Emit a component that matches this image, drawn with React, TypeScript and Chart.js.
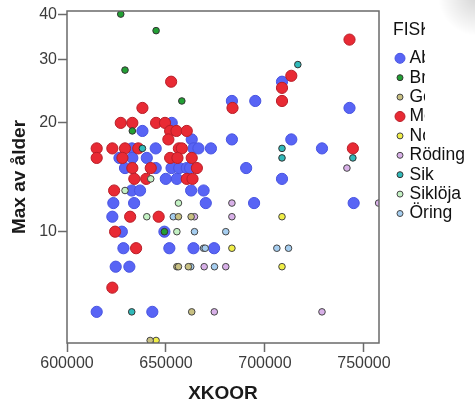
import React, { useEffect, useRef } from "react";
import { Chart, registerables } from "chart.js";

Chart.register(...registerables);

// ---------- data ----------
const legendTitle = "FISK";
const categories = ["Abborre", "Braxen", "Gers", "Mört", "Nors", "Röding", "Sik", "Siklöja", "Öring"];
const xTicks = [600000, 650000, 700000, 750000];
const yTicks = [10, 20, 30, 40];

const abborre: [number, number][] = [
  [652900, 20], [638100, 19], [663000, 18], [683300, 18], [713300, 18],
  [632800, 17], [644800, 17], [663900, 17], [666400, 17], [672700, 17], [728800, 17],
  [626500, 16], [633000, 16], [640300, 16],
  [629300, 15], [644800, 15], [652800, 15], [656700, 15], [660500, 15], [662200, 15], [690500, 15],
  [649900, 14], [655500, 14], [708600, 14],
  [632700, 13], [636900, 13], [662700, 13], [669000, 13],
  [623400, 12], [633900, 12], [670100, 12], [694500, 12], [744800, 12],
  [622900, 11],
  [627700, 10], [649200, 10],
  [628500, 9], [651700, 9], [663900, 9], [674300, 9],
  [624600, 8], [631500, 8],
  [615000, 6], [643100, 6],
  [683300, 23], [695100, 23], [708600, 26], [742700, 22],
];
const braxen: [number, number][] = [
  [627150, 40], [645000, 36], [629300, 28], [658000, 23], [633000, 19], [649200, 10],
];
const gers: [number, number][] = [
  [656300, 11], [662700, 11], [655500, 8], [656300, 8], [661300, 8], [663000, 6], [642000, 5],
];
const mort: [number, number][] = [
  [742700, 34], [713300, 27], [652600, 26], [708600, 25], [708600, 23],
  [638100, 22], [683600, 22],
  [627150, 20], [633000, 20], [645000, 20], [649500, 20],
  [652100, 19], [655300, 19], [660500, 19],
  [651200, 18],
  [615000, 17], [622900, 17], [629300, 17], [636000, 17], [656500, 17], [658000, 17], [744400, 17],
  [615000, 16], [628000, 16], [652100, 16], [655800, 16], [663000, 16],
  [633000, 15], [642300, 15], [665600, 15],
  [634000, 14], [640000, 14], [660500, 14], [663400, 14],
  [623800, 13],
  [631900, 11], [646300, 11],
  [624300, 10],
  [634900, 9],
  [622900, 7],
];
const nors: [number, number][] = [
  [645000, 5], [708600, 11], [683300, 9], [708600, 8],
];
const roding: [number, number][] = [
  [664400, 11], [669300, 8], [680200, 8], [674400, 6], [728800, 6],
  [683300, 12], [757400, 12], [683300, 11], [741400, 15],
];
const sik: [number, number][] = [
  [716600, 29], [638100, 17], [708600, 17], [708600, 16], [744400, 16], [632700, 6],
];
const sikloja: [number, number][] = [
  [642300, 14], [629300, 13], [656300, 12], [640300, 11], [655500, 10],
];
const oring: [number, number][] = [
  [653700, 11], [664400, 10], [680200, 10], [669000, 9], [669800, 9],
  [706000, 9], [711900, 9], [662500, 8], [674500, 8],
];

const seriesValues = [abborre, braxen, gers, mort, nors, roding, sik, sikloja, oring];

// ---------- styles ----------
const FONT = '"Liberation Sans", Arial, Helvetica, sans-serif';
const fills = [
  "rgb(88,100,245)", "rgb(34,160,52)", "rgb(200,192,130)", "rgb(232,42,52)", "rgb(240,238,70)",
  "rgb(216,176,232)", "rgb(48,186,186)", "rgb(196,242,196)", "rgb(166,206,240)",
];
const borders = [
  "rgb(72,84,225)", "#333", "#444", "rgb(185,30,40)", "#444", "#444", "#333", "#444", "#444",
];
const bigSeries = [true, false, false, true, false, false, false, false, false];
const drawOrder = [2, 0, 0, 1, 0, 0, 0, 0, 0];

const legendPlugin = {
  id: "fiskLegend",
  afterDraw(chart: any) {
    const ctx: CanvasRenderingContext2D = chart.ctx;
    ctx.save();
    // soft shadow in the top-right corner
    const g = ctx.createRadialGradient(478, -4, 2, 478, -4, 40);
    g.addColorStop(0, "rgba(0,0,0,0.16)");
    g.addColorStop(1, "rgba(0,0,0,0)");
    ctx.fillStyle = g;
    ctx.fillRect(430, 0, 45, 45);

    // frame around the plot area
    const a = chart.chartArea;
    ctx.strokeStyle = "#6a6a6a";
    ctx.lineWidth = 1.5;
    ctx.strokeRect(a.left, a.top, a.right - a.left, a.bottom - a.top);

    ctx.font = `17.5px ${FONT}`;
    ctx.textBaseline = "middle";
    ctx.textAlign = "left";
    const mx = 400;
    const tx = 409.5;
    const y0 = 58.3;
    const step = 19.4;

    const drawItem = (i: number) => {
      const y = y0 + step * i;
      ctx.beginPath();
      ctx.arc(mx, y, bigSeries[i] ? 5 : 3, 0, Math.PI * 2);
      ctx.fillStyle = fills[i];
      ctx.fill();
      ctx.lineWidth = 1;
      ctx.strokeStyle = borders[i];
      ctx.stroke();
      ctx.fillStyle = "#111";
      ctx.fillText(categories[i], tx, y);
    };

    ctx.save();
    ctx.beginPath();
    ctx.rect(0, 0, 425, 147);
    ctx.clip();
    ctx.fillStyle = "#111";
    ctx.fillText(legendTitle, 393, 30);
    for (let i = 0; i < 5; i++) drawItem(i);
    ctx.restore();
    for (let i = 5; i < categories.length; i++) drawItem(i);
    ctx.restore();
  },
};

export default function App() {
  const ref = useRef<HTMLCanvasElement | null>(null);

  useEffect(() => {
    if (!ref.current) return;
    const datasets = categories.map((name, i) => ({
      label: name,
      data: seriesValues[i].map(([x, y]) => ({ x, y })),
      backgroundColor: fills[i],
      borderColor: borders[i],
      borderWidth: 1,
      pointRadius: bigSeries[i] ? 5.6 : 3.3,
      pointHoverRadius: bigSeries[i] ? 5.6 : 3.3,
      order: drawOrder[i],
    }));

    const chart = new Chart(ref.current, {
      type: "scatter",
      data: { datasets },
      options: {
        responsive: false,
        animation: false,
        events: [],
        layout: { padding: { left: 0, top: 11, right: 96, bottom: 0 } },
        plugins: { legend: { display: false }, tooltip: { enabled: false } },
        scales: {
          x: {
            type: "linear",
            min: 600000,
            max: 757600,
            afterBuildTicks: (s: any) => {
              s.ticks = xTicks.map((v) => ({ value: v }));
            },
            afterFit: (s: any) => {
              s.height = 60;
            },
            grid: {
              drawOnChartArea: false,
              drawTicks: true,
              tickLength: 9,
              tickColor: "#6a6a6a",
              tickWidth: 1.5,
            },
            border: { display: false },
            ticks: {
              autoSkip: false,
              maxRotation: 0,
              padding: 2,
              color: "#3c3c3c",
              font: { size: 16, family: FONT },
              callback: (v: any) => String(v),
            },
            title: {
              display: true,
              text: "XKOOR",
              color: "#1a1a1a",
              font: { size: 19, weight: "bold", family: FONT, lineHeight: 1 },
              padding: { top: 0, bottom: 0 },
            },
          },
          y: {
            type: "logarithmic",
            min: 4.92,
            max: 40.8,
            afterBuildTicks: (s: any) => {
              s.ticks = yTicks.map((v) => ({ value: v }));
            },
            afterFit: (s: any) => {
              s.width = 67;
            },
            grid: {
              drawOnChartArea: false,
              drawTicks: true,
              tickLength: 9,
              tickColor: "#6a6a6a",
              tickWidth: 1.5,
            },
            border: { display: false },
            ticks: {
              autoSkip: false,
              padding: 1,
              color: "#3c3c3c",
              font: { size: 16, family: FONT },
              callback: (v: any) => String(v),
            },
            title: {
              display: true,
              text: "Max av ålder",
              color: "#1a1a1a",
              font: { size: 19, weight: "bold", family: FONT, lineHeight: 1 },
              padding: { top: 10.5, bottom: 0 },
            },
          },
        },
      } as any,
      plugins: [legendPlugin],
    });
    return () => chart.destroy();
  }, []);

  return (
    <div style={{ position: "absolute", left: 0, top: 0, width: 475, height: 403, background: "#fff" }}>
      <canvas ref={ref} width={475} height={403} style={{ display: "block" }} />
    </div>
  );
}
